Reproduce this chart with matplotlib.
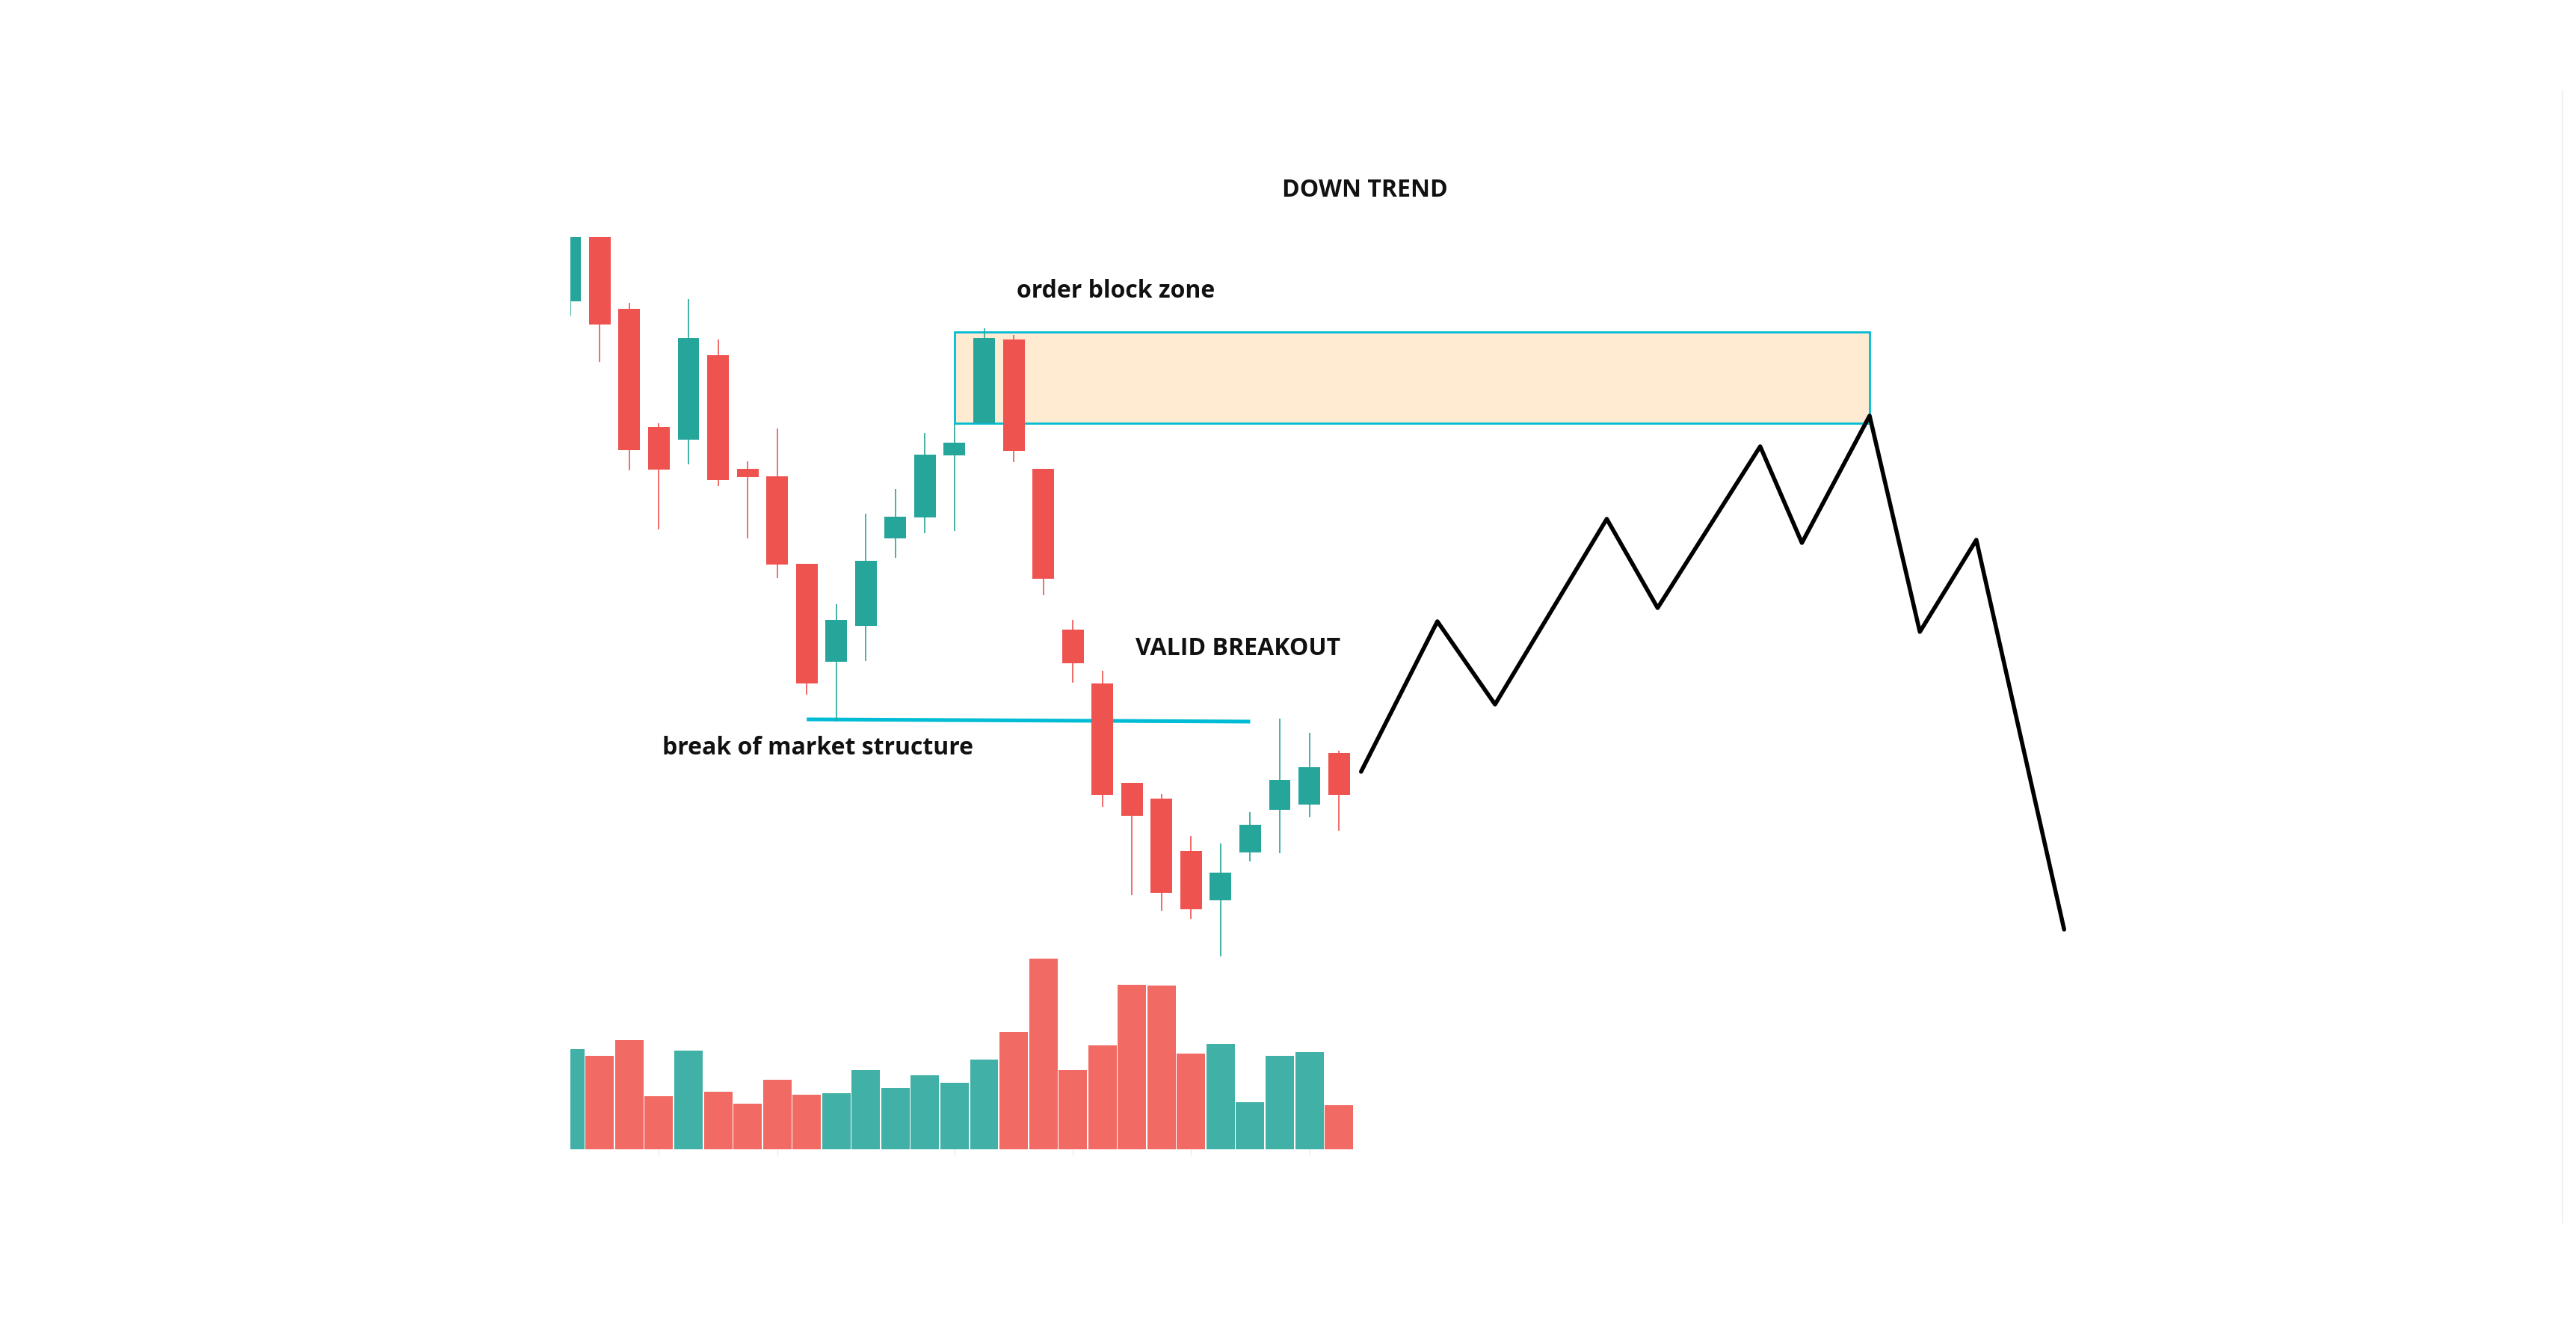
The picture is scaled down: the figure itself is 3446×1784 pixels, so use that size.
import numpy as np
import matplotlib
matplotlib.use("Agg")
import matplotlib.pyplot as plt
from matplotlib.patches import Rectangle

# candles (price units)
opens  = [139.7, 148.3, 138.7, 122.9, 121.2, 132.5, 117.3, 116.3, 104.6, 91.5,
          96.3, 108.0, 110.8, 119.1, 123.4, 134.6, 117.3, 95.8, 88.6, 75.3,
          73.2, 66.2, 59.6, 66.0, 71.7, 72.4, 79.3]
highs  = [148.3, 148.3, 139.5, 123.4, 140.0, 134.6, 118.3, 122.7, 104.6, 99.2,
          111.3, 114.6, 122.1, 123.3, 136.1, 135.2, 117.3, 97.1, 90.3, 75.3,
          73.8, 68.2, 67.2, 71.4, 83.9, 82.0, 79.6]
lows   = [137.7, 131.6, 117.1, 109.2, 117.9, 115.0, 108.0, 102.7, 87.1, 83.5,
          91.6, 105.4, 108.7, 109.0, 123.4, 118.2, 100.4, 88.7, 72.1, 60.3,
          58.2, 57.1, 52.1, 64.8, 65.9, 70.7, 68.9]
closes = [148.3, 136.6, 119.8, 117.2, 134.8, 115.8, 116.2, 104.5, 88.6, 97.1,
          105.0, 110.9, 119.2, 120.8, 134.8, 119.7, 102.6, 91.3, 73.7, 70.9,
          60.6, 58.4, 63.3, 69.7, 75.7, 77.4, 73.7]
volumes = [402, 376, 438, 213, 396, 230, 184, 280, 218, 225, 318, 246, 296, 267,
           360, 472, 765, 318, 418, 659, 656, 384, 422, 189, 376, 389, 176]

# order block zone and break of structure level
zone_start, zone_end = 13, 43.95
zone_low, zone_high = 123.4, 135.6
bos_x = [8, 23]
bos_y = [83.8, 83.5]

# projected path drawn by hand
path_x = [26.75, 29.33, 31.28, 35.06, 36.78, 40.25, 41.66, 43.95, 45.65, 47.56, 50.53]
path_y = [76.8, 96.9, 85.8, 110.6, 98.7, 120.3, 107.4, 124.4, 95.5, 107.8, 55.7]

time_ticks = [3, 7, 13, 17, 21, 25]

GREEN = "#26a69a"
RED = "#ef5350"
VOL_GREEN = "#41b0a6"
VOL_RED = "#f26a64"
CYAN = "#00bcd4"

plt.rcParams["font.family"] = ["Open Sans", "DejaVu Sans"]

W, H = 3446, 1784
fig = plt.figure(figsize=(W / 100, H / 100), dpi=100)
fig.patch.set_facecolor("white")

def rect(left, top, right, bottom):
    return [left / W, 1 - bottom / H, (right - left) / W, (bottom - top) / H]

left_px, right_px = 762.8, 3428
step_px = 39.55
xmax = (right_px - left_px) / step_px

# volume pane sits under the candles
axv = fig.add_axes(rect(left_px, 1137, right_px, 1537))
x = np.arange(len(volumes))
up = np.array(closes) >= np.array(opens)
axv.bar(x, volumes, width=0.96, color=[VOL_GREEN if u else VOL_RED for u in up],
        linewidth=0)
axv.set_xlim(0, xmax)
axv.set_ylim(0, 1200)
axv.set_xticks(time_ticks)
axv.set_xticklabels([])
axv.set_yticks([])
axv.tick_params(axis="x", length=5.8, width=0.8, color="#e6e6e6")
for s in axv.spines.values():
    s.set_visible(False)
axv.patch.set_alpha(0)

ax = fig.add_axes(rect(left_px, 121, right_px, 1635))
ax.set_xlim(0, xmax)
ax.set_ylim(16.5, 167.9)
ax.patch.set_alpha(0)
ax.set_xticks([])
ax.set_yticks([])
for name, s in ax.spines.items():
    s.set_visible(name == "right")
ax.spines["right"].set_color("#f0f0f0")
ax.spines["right"].set_linewidth(1.5)

# order block zone
ax.add_patch(Rectangle((zone_start, zone_low), zone_end - zone_start, zone_high - zone_low,
                       facecolor="#ffebd2", edgecolor=CYAN, linewidth=2.0, zorder=1))

# break of market structure line
ax.plot(bos_x, bos_y, color=CYAN, linewidth=3.6, solid_capstyle="butt", zorder=1.5)

# candles
o = np.array(opens)
c = np.array(closes)
cols = [GREEN if u else RED for u in up]
ax.vlines(x, lows, highs, colors=cols, linewidth=1.2, zorder=2)
ax.bar(x, np.abs(c - o), bottom=np.minimum(o, c), width=0.733, color=cols,
       linewidth=0, zorder=3)

# hand drawn projection
ax.plot(path_x, path_y, color="black", linewidth=4.0, solid_capstyle="round",
        solid_joinstyle="round", zorder=4)

txt = dict(fontsize=23, fontweight="bold", color="#111111", va="baseline")
ax.text(26.88, 153.7, "DOWN TREND", ha="center", **txt)
ax.text(15.1, 140.2, "order block zone", ha="left", **txt)
ax.text(19.13, 92.4, "VALID BREAKOUT", ha="left", **txt)
ax.text(3.12, 79.1, "break of market structure", ha="left", **txt)

fig.savefig("out.png", dpi=100, facecolor="white")
